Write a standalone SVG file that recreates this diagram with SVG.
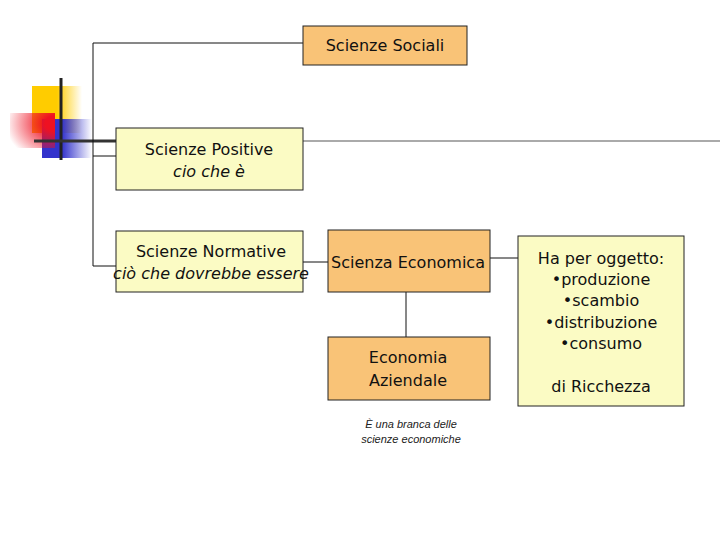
<svg xmlns="http://www.w3.org/2000/svg" width="720" height="540" viewBox="0 0 720 540">
<defs>
<linearGradient id="gy" x1="0" x2="1"><stop offset="0.5" stop-color="#ffcc00"/><stop offset="1" stop-color="#ffcc00" stop-opacity="0"/></linearGradient>
<linearGradient id="gb" x1="0" x2="1"><stop offset="0.4" stop-color="#3333cc"/><stop offset="1" stop-color="#3333cc" stop-opacity="0"/></linearGradient>
<radialGradient id="gr" cx="1" cy="0.3" r="1.1"><stop offset="0.2" stop-color="#ee1122"/><stop offset="1" stop-color="#ee1122" stop-opacity="0"/></radialGradient>
</defs>
<style>
.o{fill:#f9c377;stroke:#222;stroke-width:1}
.y{fill:#fbfbc4;stroke:#222;stroke-width:1}
.t{font-family:Tahoma,"DejaVu Sans",sans-serif;font-size:16px;fill:#111;text-anchor:middle}
.i{font-style:italic}
.c{fill:none;stroke:#111;stroke-width:1}
</style>
<rect width="720" height="540" fill="#fff"/>
<g id="deco">
<rect x="32" y="86" width="50" height="47" fill="url(#gy)"/>
<rect x="42" y="119" width="50" height="39" fill="url(#gb)"/>
<rect x="10" y="113" width="45" height="35" fill="url(#gr)"/>
<line x1="61" y1="78" x2="61" y2="160" stroke="#222" stroke-width="3"/>
<line x1="34" y1="141" x2="116" y2="141" stroke="#333" stroke-width="3"/>
<line x1="303" y1="141" x2="720" y2="141" stroke="#aaa" stroke-width="2"/>
</g>
<g id="connectors" class="c">
<polyline points="303,43 93,43 93,266 116,266"/>
<line x1="93" y1="156" x2="116" y2="156"/>
<line x1="303" y1="262" x2="328" y2="262"/>
<line x1="406" y1="292" x2="406" y2="337"/>
<line x1="490" y1="258" x2="518" y2="258"/>
</g>
<g id="sociali"><rect class="o" x="303" y="26" width="164" height="39"/><text class="t" x="385" y="51">Scienze Sociali</text></g>
<g id="positive"><rect class="y" x="116" y="128" width="187" height="62"/><text class="t" x="209" y="155">Scienze Positive</text><text class="t i" x="209" y="177" font-family="'DejaVu Sans',sans-serif">cio che è</text></g>
<g id="normative"><rect class="y" x="116" y="231" width="187" height="61"/><text class="t" x="211" y="257">Scienze Normative</text><text class="t i" x="211" y="279">ciò che dovrebbe essere</text></g>
<g id="economica"><rect class="o" x="328" y="230" width="162" height="62"/><text class="t" x="408" y="268">Scienza Economica</text></g>
<g id="aziendale"><rect class="o" x="328" y="337" width="162" height="63"/><text class="t" x="408" y="363">Economia</text><text class="t" x="408" y="386">Aziendale</text>
<text x="411" y="428" font-family="'Liberation Sans',Arial,sans-serif" font-size="11" font-style="italic" fill="#222" text-anchor="middle">È una branca delle</text><text x="411" y="443" font-family="'Liberation Sans',Arial,sans-serif" font-size="11" font-style="italic" fill="#222" text-anchor="middle">scienze economiche</text></g>
<g id="oggetto"><rect class="y" x="518" y="236" width="166" height="170"/>
<text class="t" x="601" y="264">Ha per oggetto:</text>
<text class="t" x="601" y="285">•produzione</text>
<text class="t" x="601" y="306">•scambio</text>
<text class="t" x="601" y="328">•distribuzione</text>
<text class="t" x="601" y="349">•consumo</text>
<text class="t" x="601" y="392">di Ricchezza</text></g>
</svg>
